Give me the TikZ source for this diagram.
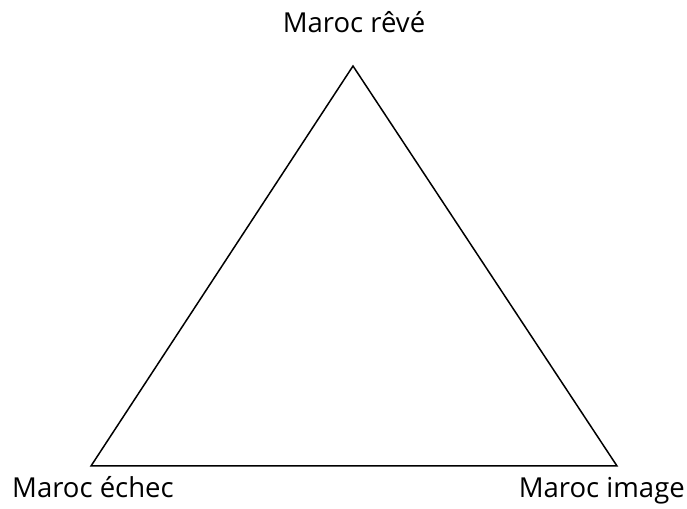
\documentclass[tikz,border=0pt]{standalone}
\usepackage{fontspec}
\setmainfont{Open Sans}
\begin{document}
\begin{tikzpicture}[x=1pt,y=1pt,
  label/.style={font=\fontsize{27.5}{32}\selectfont, inner sep=0pt},
  edge/.style={draw=black, line width=1.5pt, line join=miter}]
\useasboundingbox (0,0) rectangle (687,508);
% vertices of the triangle
\coordinate (top) at (353,442);
\coordinate (bl) at (91,42);
\coordinate (br) at (617,42);
\draw[edge] (top) -- (bl) -- (br) -- cycle;
% vertex captions
\node[label, anchor=base] (reve) at (354,475) {Maroc rêvé};
\node[label, anchor=base west] (echec) at (12,11) {Maroc échec};
\node[label, anchor=base east] (image) at (685,11) {Maroc image};
\end{tikzpicture}
\end{document}
